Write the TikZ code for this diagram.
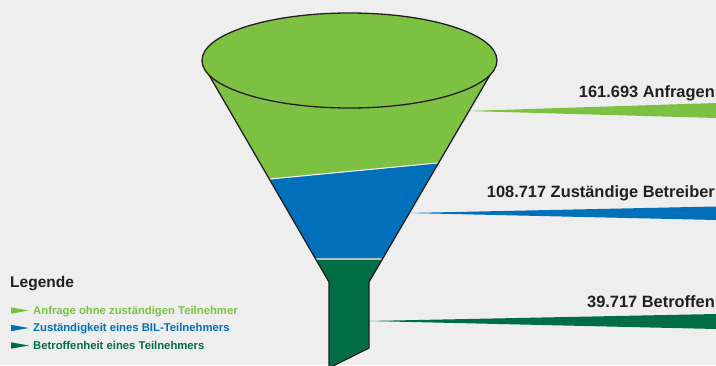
\documentclass[tikz,border=0pt]{standalone}
\usepackage{fontspec}
\setmainfont{Liberation Sans}
\definecolor{bg}{HTML}{EEEEEE}
\definecolor{lgreen}{HTML}{7DC142}
\definecolor{fblue}{HTML}{0070BA}
\definecolor{dgreen}{HTML}{006E44}
\definecolor{ink}{HTML}{231F20}
\definecolor{seam}{HTML}{A8C6CF}
\begin{document}
\begin{tikzpicture}[x=1pt,y=-1pt,
  outline/.style={draw=ink,line width=1.3pt,line join=miter},
  valtext/.style={font=\bfseries\fontsize{16.4}{18}\selectfont,text=ink,inner sep=0,anchor=base east},
  legtext/.style={font=\bfseries\fontsize{11.3}{13}\selectfont,inner sep=0,anchor=base west},
  legtitle/.style={font=\bfseries\fontsize{15.5}{17}\selectfont,text=ink,inner sep=0,anchor=base west}]
\fill[bg] (0,0) rectangle (716,365);
\useasboundingbox (0,0) rectangle (716,365);

% funnel corner points
\coordinate (tl) at (209,75);
\coordinate (tr) at (490,75);
\coordinate (nl) at (329,282);
\coordinate (nr) at (369,282);
\coordinate (bl) at (329,368);
\coordinate (br) at (369,348);

% ribbons running from the funnel to the right edge
\fill[lgreen] (467,111) -- (716,103) -- (716,118) -- cycle;
\fill[fblue]  (408,213) -- (716,206.5) -- (716,220) -- cycle;
\fill[dgreen] (368,321) -- (716,314) -- (716,329) -- cycle;

% funnel bands
\begin{scope}
  \clip (tl) -- (nl) -- (bl) -- (br) -- (nr) -- (tr) -- cycle;
  \fill[lgreen] (150,0) -- (550,0) -- (550,152.2) -- (150,190.5) -- cycle;
  \fill[fblue] (150,190.5) -- (550,152.2) -- (550,259) -- (150,259) -- cycle;
  \fill[dgreen] (150,259) rectangle (550,370);
  \draw[white,line width=1pt] (150,190.5) -- (550,152.2);
  \draw[seam,line width=1.5pt] (150,259) -- (550,259);
\end{scope}
\draw[outline] (tl) -- (nl) -- (bl) -- (br) -- (nr) -- (tr);

% funnel opening
\draw[outline,fill=lgreen] (349.5,60.5) ellipse [x radius=147.5,y radius=47.5];

% values
\node[valtext] (v1) at (715,97) {161.693 Anfragen};
\node[valtext] (v2) at (715,197) {108.717 Zuständige Betreiber};
\node[valtext] (v3) at (715,307) {39.717 Betroffen};

% legend
\node[legtitle] (leg) at (10,287.3) {Legende};
\fill[lgreen] (11,307.3) -- (29,310.5) -- (11,313.7) -- cycle;
\node[legtext,text=lgreen] (l1) at (33,314) {Anfrage ohne zuständigen Teilnehmer};
\fill[fblue] (11,324.8) -- (29,328) -- (11,331.2) -- cycle;
\node[legtext,text=fblue] (l2) at (33,331.5) {Zuständigkeit eines BIL-Teilnehmers};
\fill[dgreen] (11,342.3) -- (29,345.5) -- (11,348.7) -- cycle;
\node[legtext,text=dgreen] (l3) at (33,349) {Betroffenheit eines Teilnehmers};
\end{tikzpicture}
\end{document}
